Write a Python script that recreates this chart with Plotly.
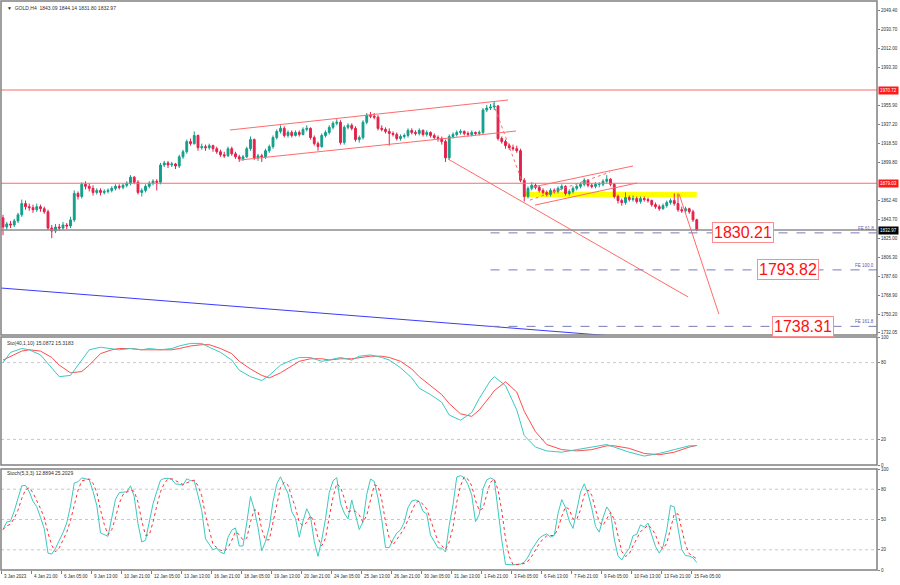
import plotly.graph_objects as go
import pandas as pd

# ---------------- data ----------------
symbol_header = "\u25bc  GOLD,H4  1843.09 1844.14 1831.80 1832.97"
sto_slow_header = "Sto(40,1,10) 15.0872 15.3183"
sto_fast_header = "Stoch(5,3,3) 12.8894 25.2029"

opens = [1845, 1836, 1839, 1838, 1842, 1848, 1859, 1856, 1855, 1853,
         1856, 1854, 1851, 1835, 1832, 1836, 1835, 1838, 1837, 1843,
         1869, 1866, 1878, 1876, 1874, 1870, 1872, 1870, 1871, 1872,
         1874, 1876, 1875, 1877, 1879, 1885, 1880, 1870, 1872, 1876,
         1879, 1881, 1880, 1897, 1899, 1897, 1898, 1896, 1905, 1910,
         1920, 1918, 1926, 1914, 1915, 1914, 1916, 1913, 1910, 1907,
         1906, 1913, 1908, 1905, 1903, 1905, 1913, 1922, 1904, 1906,
         1905, 1911, 1915, 1924, 1930, 1933, 1926, 1929, 1926, 1929,
         1927, 1932, 1933, 1924, 1918, 1915, 1926, 1929, 1934, 1938,
         1939, 1919, 1934, 1936, 1933, 1922, 1924, 1939, 1946, 1945,
         1944, 1933, 1932, 1930, 1928, 1927, 1923, 1925, 1926, 1931,
         1929, 1928, 1931, 1927, 1929, 1926, 1924, 1923, 1920, 1904,
         1925, 1927, 1929, 1930, 1928, 1927, 1929, 1928, 1929, 1951,
         1953, 1954, 1955, 1923, 1920, 1916, 1914, 1913, 1911, 1882,
         1866, 1874, 1877, 1875, 1872, 1870, 1868, 1872, 1871, 1874,
         1876, 1869, 1871, 1874, 1876, 1878, 1882, 1877, 1876, 1878,
         1878, 1881, 1883, 1878, 1866, 1862, 1860, 1865, 1863, 1864,
         1861, 1864, 1863, 1862, 1858, 1856, 1854, 1857, 1860, 1862,
         1859, 1853, 1852, 1854, 1851, 1843.09]
highs = [1848, 1841, 1842, 1844, 1850, 1863, 1862, 1859, 1858, 1859,
         1858, 1856, 1853, 1838, 1839, 1839, 1841, 1840, 1846, 1872,
         1871, 1880, 1881, 1879, 1877, 1874, 1874, 1873, 1874, 1876,
         1878, 1878, 1879, 1881, 1887, 1886, 1882, 1874, 1878, 1881,
         1883, 1883, 1899, 1901, 1901, 1900, 1899, 1907, 1912, 1922,
         1923, 1930, 1927, 1918, 1917, 1918, 1917, 1915, 1912, 1910,
         1915, 1915, 1910, 1907, 1907, 1915, 1925, 1923, 1908, 1908,
         1913, 1917, 1926, 1932, 1936, 1935, 1931, 1931, 1931, 1931,
         1934, 1936, 1934, 1926, 1920, 1928, 1931, 1936, 1940, 1942,
         1941, 1936, 1938, 1938, 1935, 1926, 1941, 1948, 1949, 1948,
         1946, 1936, 1934, 1933, 1930, 1929, 1927, 1928, 1933, 1933,
         1931, 1933, 1932, 1931, 1930, 1928, 1926, 1925, 1922, 1927,
         1929, 1931, 1932, 1931, 1930, 1931, 1930, 1931, 1953, 1956,
         1957, 1959, 1956, 1925, 1922, 1918, 1917, 1916, 1913, 1884,
         1876, 1880, 1879, 1877, 1874, 1872, 1874, 1874, 1876, 1878,
         1877, 1873, 1876, 1878, 1880, 1884, 1883, 1879, 1880, 1880,
         1883, 1887, 1884, 1879, 1868, 1864, 1870, 1867, 1867, 1866,
         1866, 1866, 1865, 1863, 1860, 1858, 1859, 1862, 1864, 1869,
         1869, 1856, 1856, 1855, 1853, 1844.14]
lows = [1828, 1833, 1835, 1836, 1840, 1846, 1853, 1852, 1850, 1851,
        1851, 1849, 1833, 1825, 1830, 1832, 1833, 1834, 1835, 1841,
        1863, 1864, 1873, 1871, 1867, 1868, 1867, 1868, 1869, 1870,
        1872, 1873, 1873, 1875, 1877, 1878, 1868, 1866, 1870, 1874,
        1877, 1872, 1878, 1895, 1894, 1895, 1893, 1894, 1903, 1908,
        1916, 1917, 1911, 1912, 1911, 1912, 1910, 1908, 1905, 1904,
        1905, 1906, 1903, 1900, 1901, 1904, 1911, 1902, 1901, 1900,
        1903, 1909, 1913, 1922, 1928, 1924, 1924, 1924, 1925, 1925,
        1926, 1930, 1922, 1916, 1911, 1914, 1924, 1927, 1932, 1936,
        1917, 1917, 1932, 1931, 1920, 1919, 1922, 1937, 1943, 1942,
        1931, 1930, 1928, 1916, 1925, 1921, 1921, 1923, 1924, 1927,
        1926, 1926, 1925, 1925, 1924, 1922, 1920, 1917, 1900, 1902,
        1923, 1925, 1927, 1926, 1925, 1925, 1926, 1926, 1927, 1949,
        1951, 1951, 1921, 1918, 1913, 1912, 1911, 1909, 1880, 1861,
        1864, 1872, 1873, 1870, 1868, 1866, 1866, 1869, 1869, 1872,
        1867, 1867, 1869, 1872, 1874, 1876, 1875, 1874, 1874, 1875,
        1876, 1879, 1876, 1864, 1859, 1857, 1858, 1861, 1861, 1859,
        1859, 1861, 1860, 1856, 1854, 1852, 1853, 1855, 1858, 1857,
        1851, 1850, 1850, 1849, 1841, 1831.80]
closes = [1836, 1839, 1838, 1842, 1848, 1859, 1856, 1855, 1853, 1856,
          1854, 1851, 1835, 1832, 1836, 1835, 1838, 1837, 1843, 1869,
          1866, 1878, 1876, 1874, 1870, 1872, 1870, 1871, 1872, 1874,
          1876, 1875, 1877, 1879, 1885, 1880, 1870, 1872, 1876, 1879,
          1881, 1880, 1897, 1899, 1897, 1898, 1896, 1905, 1910, 1920,
          1918, 1926, 1914, 1915, 1914, 1916, 1913, 1910, 1907, 1906,
          1913, 1908, 1905, 1903, 1905, 1913, 1922, 1904, 1906, 1905,
          1911, 1915, 1924, 1930, 1933, 1926, 1929, 1926, 1929, 1927,
          1932, 1933, 1924, 1918, 1915, 1926, 1929, 1934, 1938, 1939,
          1919, 1934, 1936, 1933, 1922, 1924, 1939, 1946, 1945, 1944,
          1933, 1932, 1930, 1928, 1927, 1923, 1925, 1926, 1931, 1929,
          1928, 1931, 1927, 1929, 1926, 1924, 1923, 1920, 1904, 1925,
          1927, 1929, 1930, 1928, 1927, 1929, 1928, 1929, 1951, 1953,
          1954, 1955, 1923, 1920, 1916, 1914, 1913, 1911, 1882, 1866,
          1874, 1877, 1875, 1872, 1870, 1868, 1872, 1871, 1874, 1876,
          1869, 1871, 1874, 1876, 1878, 1882, 1877, 1876, 1878, 1878,
          1881, 1883, 1878, 1866, 1862, 1860, 1865, 1863, 1864, 1861,
          1864, 1863, 1862, 1858, 1856, 1854, 1857, 1860, 1862, 1859,
          1853, 1852, 1854, 1851, 1843.09, 1832.97]

date_labels = ["3 Jan 2023", "4 Jan 21:00", "6 Jan 05:00", "9 Jan 13:00", "10 Jan 21:00",
               "12 Jan 05:00", "13 Jan 13:00", "16 Jan 21:00", "18 Jan 05:00", "19 Jan 13:00",
               "20 Jan 21:00", "24 Jan 05:00", "25 Jan 13:00", "26 Jan 21:00", "30 Jan 05:00",
               "31 Jan 13:00", "1 Feb 21:00", "3 Feb 05:00", "6 Feb 13:00", "7 Feb 21:00",
               "9 Feb 05:00", "10 Feb 13:00", "13 Feb 21:00", "15 Feb 05:00"]
label_bars = [0, 8, 16, 24, 32, 40, 48, 56, 64, 72, 80, 88, 96, 104, 112, 120,
              128, 136, 144, 152, 160, 168, 176, 184]

# price-scale labels (1974.60 and 1881.10 sit under the coloured level tags)
price_ticks = [2049.40, 2030.70, 2012.00, 1993.30, 1955.90, 1937.20, 1918.50,
               1899.80, 1862.40, 1843.70, 1825.00, 1806.30, 1787.60, 1768.90,
               1750.20, 1732.05]

resistance_levels = [1970.72, 1879.03]
bid_price = 1832.97
fe_levels = [1830.21, 1793.82, 1738.31]
fe_names = ["FE 61.8", "FE 100.0", "FE 161.8"]
fe_start_bar = 130

# trend lines: (bar0, price0, bar1, price1)
channel_lines = [(60.5, 1931.4, 134.7, 1960.9),
                 (63.2, 1901.9, 136.8, 1930.4),
                 (118.7, 1902.8, 182.7, 1767.2),
                 (180.3, 1868.4, 190.9, 1750.4),
                 (141.3, 1875.3, 168.0, 1896.0),
                 (141.9, 1857.6, 169.1, 1879.3)]
zigzag_lines = [(130.7, 1957.9, 138.3, 1882.0),
                (140.5, 1862.4, 161.9, 1890.0)]
blue_line = (-0.53, 1776.0, 170.0, 1726.7)
yellow_zone = (139.2, 185.0, 1865.3, 1870.6)

# Stochastic(40,1,10)
sto40_bars = [0, 2, 5, 7, 10, 13, 15, 18, 21, 23, 26, 29, 31, 34, 37, 39, 42, 45, 47, 50,
              53, 55, 58, 61, 63, 66, 69, 71, 74, 77, 79, 82, 85, 87, 90, 93, 95, 98, 101, 103,
              106, 109, 111, 114, 117, 119, 122, 125, 127, 130, 131, 134, 137, 139, 142, 145,
              149, 153, 157, 161, 163, 167, 171, 175, 179, 183, 185]
sto40_main = [80, 88, 91, 90, 86, 76, 69, 70, 82, 90, 92, 91, 90, 91, 90, 91, 90, 91, 93, 95,
              95, 92, 88, 82, 74, 69, 66, 70, 78, 82, 84, 84, 81, 82, 84, 82, 85, 86, 84, 82,
              76, 68, 60, 55, 49, 39, 35, 41, 52, 66, 69, 62, 43, 23, 14, 11,
              10, 12, 14, 16, 14, 10, 7, 9, 12, 15, 15.09]
sto40_signal = [82, 85, 89, 90, 89, 84, 78, 72, 73, 78, 87, 90, 91, 91, 90, 90, 90, 90, 91, 93,
                94, 94, 91, 87, 81, 75, 70, 68, 72, 77, 81, 83, 83, 82, 83, 83, 84, 85, 85, 84,
                81, 75, 69, 62, 55, 48, 40, 38, 43, 54, 58, 65, 57, 42, 26, 16,
                12, 11, 12, 15, 15, 13, 9, 8, 10, 14, 15.32]

# ---------------- indicator (fast stochastic from the candles) ----------------
df = pd.DataFrame({"o": opens, "h": highs, "l": lows, "c": closes})
ll = df["l"].rolling(5, min_periods=1).min()
hh = df["h"].rolling(5, min_periods=1).max()
num = (df["c"] - ll).rolling(3, min_periods=1).sum()
den = (hh - ll).rolling(3, min_periods=1).sum()
stoch_k = 100 * num / den
stoch_d = stoch_k.rolling(3, min_periods=1).mean()
bars = list(range(len(closes)))

# ---------------- layout geometry ----------------
W, H = 900, 585
ML, MR, MT, MB = 1, 23, 1, 15
plot_h = H - MT - MB
plot_w = W - ML - MR
X0, X1 = -0.533, -0.533 + plot_w / 3.75


def py(px):  # pixel row -> paper y
    return (H - MB - px) / plot_h


dom_main = [py(335), 1.0]
dom_s1 = [py(465), py(337)]
dom_s2 = [0.0, py(469)]

BULL = "#139e8b"
BEAR = "#e3214a"
TRED = "#ff6b6b"
AXC = "#808080"
TXT = "#303030"
FONT = "Liberation Sans, Arial, sans-serif"

fig = go.Figure()

# yellow zone
fig.add_shape(type="rect", xref="x", yref="y", x0=yellow_zone[0], x1=yellow_zone[1],
              y0=yellow_zone[2], y1=yellow_zone[3], fillcolor="#ffff00",
              line=dict(width=0), layer="below")

# horizontal levels
for lv in resistance_levels:
    fig.add_shape(type="line", xref="x domain", yref="y", x0=0, x1=1, y0=lv, y1=lv,
                  line=dict(color=TRED, width=1))
fig.add_shape(type="line", xref="x domain", yref="y", x0=0, x1=1, y0=bid_price, y1=bid_price,
              line=dict(color="#8c8c8c", width=1.5))
for lv in fe_levels:
    fig.add_shape(type="line", xref="x", yref="y", x0=fe_start_bar, x1=X1, y0=lv, y1=lv,
                  line=dict(color="#7a7ab8", width=1, dash="dash"))

# blue long-term line
fig.add_trace(go.Scatter(x=[blue_line[0], blue_line[2]], y=[blue_line[1], blue_line[3]],
                         mode="lines", line=dict(color="#3a3aff", width=1),
                         xaxis="x", yaxis="y", hoverinfo="skip"))
# trend lines
for (a, b, c, d) in channel_lines:
    fig.add_trace(go.Scatter(x=[a, c], y=[b, d], mode="lines",
                             line=dict(color=TRED, width=1), xaxis="x", yaxis="y",
                             hoverinfo="skip"))
for (a, b, c, d) in zigzag_lines:
    fig.add_trace(go.Scatter(x=[a, c], y=[b, d], mode="lines",
                             line=dict(color=TRED, width=1, dash="dot"), xaxis="x", yaxis="y",
                             hoverinfo="skip"))

# candles
fig.add_trace(go.Candlestick(
    x=bars, open=opens, high=highs, low=lows, close=closes,
    increasing=dict(line=dict(color=BULL, width=1), fillcolor=BULL),
    decreasing=dict(line=dict(color=BEAR, width=1), fillcolor=BEAR),
    whiskerwidth=0, xaxis="x", yaxis="y", hoverinfo="skip"))

# stochastic panels
fig.add_trace(go.Scatter(x=sto40_bars, y=sto40_signal, mode="lines",
                         line=dict(color="#ff4d4d", width=1), xaxis="x", yaxis="y2"))
fig.add_trace(go.Scatter(x=sto40_bars, y=sto40_main, mode="lines",
                         line=dict(color="#3cc9c0", width=1), xaxis="x", yaxis="y2"))
fig.add_trace(go.Scatter(x=bars, y=stoch_k, mode="lines",
                         line=dict(color="#3cc9c0", width=1), xaxis="x", yaxis="y3"))
fig.add_trace(go.Scatter(x=bars, y=stoch_d, mode="lines",
                         line=dict(color="#ff3030", width=1, dash="dot"), xaxis="x", yaxis="y3"))

for lv in [80, 20]:
    fig.add_shape(type="line", xref="x domain", yref="y2", x0=0, x1=1, y0=lv, y1=lv,
                  line=dict(color="#c8c8c8", width=1, dash="dot"), layer="below")
for lv in [80, 50, 20]:
    fig.add_shape(type="line", xref="x domain", yref="y3", x0=0, x1=1, y0=lv, y1=lv,
                  line=dict(color="#c8c8c8", width=1, dash="dot"), layer="below")

# panel frames
for d in (dom_main, dom_s1, dom_s2):
    fig.add_shape(type="rect", xref="paper", yref="paper", x0=0, x1=1, y0=d[0], y1=d[1],
                  line=dict(color=AXC, width=1.5), fillcolor="rgba(0,0,0,0)")

# right-axis coloured price tags
for lv in resistance_levels:
    fig.add_annotation(xref="paper", yref="y", x=1.0, y=lv, xanchor="left", yanchor="middle",
                       text=f"{lv:.2f}", showarrow=False, bgcolor="#ff1a1a",
                       font=dict(color="white", size=4.5, family=FONT), borderpad=1, xshift=1)
fig.add_annotation(xref="paper", yref="y", x=1.0, y=bid_price, xanchor="left", yanchor="middle",
                   text=f"{bid_price:.2f}", showarrow=False, bgcolor="#000000",
                   font=dict(color="white", size=4.5, family=FONT), borderpad=1, xshift=1)

# FE labels and big value boxes
big_pos = [197.3, 209.4, 213.4]
for lv, name, bx in zip(fe_levels, fe_names, big_pos):
    fig.add_annotation(xref="x", yref="y", x=X1 - 0.3, y=lv, xanchor="right", yanchor="bottom",
                       text=name, showarrow=False,
                       font=dict(color="#5a5aa8", size=4.5, family=FONT))
    fig.add_annotation(xref="x", yref="y", x=bx, y=lv, xanchor="center", yanchor="middle",
                       text=f"{lv:.2f}", showarrow=False, bgcolor="white",
                       bordercolor="#ff8c8c", borderwidth=1, borderpad=1,
                       font=dict(color="#ff1010", size=16,
                                 family="Liberation Sans Narrow, Arial Narrow, Liberation Sans, Arial"))

# headers
fig.add_annotation(xref="paper", yref="paper", x=0.004, y=py(3), xanchor="left", yanchor="top",
                   text=symbol_header, showarrow=False, font=dict(color=TXT, size=5, family=FONT))
fig.add_annotation(xref="paper", yref="paper", x=0.004, y=py(338), xanchor="left", yanchor="top",
                   text=sto_slow_header, showarrow=False, font=dict(color=TXT, size=5, family=FONT))
fig.add_annotation(xref="paper", yref="paper", x=0.004, y=py(468), xanchor="left", yanchor="top",
                   text=sto_fast_header, showarrow=False, font=dict(color=TXT, size=5, family=FONT))

# date labels (left aligned at tick)
for b, t in zip(label_bars, date_labels):
    fig.add_annotation(xref="x", yref="paper", x=b - 0.533, y=0, xanchor="left", yanchor="top",
                       text=t, showarrow=False, yshift=-2, xshift=1,
                       font=dict(color=TXT, size=4.5, family=FONT))

axis_common = dict(side="right", showgrid=False, zeroline=False, ticks="outside", ticklen=2,
                   tickcolor=AXC, tickfont=dict(size=4.5, color=TXT, family=FONT),
                   showline=False, fixedrange=True)

fig.update_layout(
    width=W, height=H, margin=dict(l=ML, r=MR, t=MT, b=MB, autoexpand=False),
    paper_bgcolor="white", plot_bgcolor="white", showlegend=False,
    xaxis=dict(range=[X0, X1], anchor="y3", showgrid=False, zeroline=False,
               tickvals=[b - 0.533 for b in label_bars], showticklabels=False,
               ticks="outside", ticklen=3, tickcolor=AXC, showline=False,
               rangeslider=dict(visible=False), fixedrange=True),
    yaxis=dict(domain=dom_main, range=[1729.8, 2058.25], tickvals=price_ticks,
               ticktext=[f"{v:.2f}" for v in price_ticks], anchor="x", **axis_common),
    yaxis2=dict(domain=dom_s1, range=[0, 100], tickvals=[100, 80, 20, 0],
                ticktext=["100", "80", "20", "0"], anchor="x", **axis_common),
    yaxis3=dict(domain=dom_s2, range=[0, 100], tickvals=[100, 80, 50, 20, 0],
                ticktext=["100", "80", "50", "20", "0"], anchor="x", **axis_common),
)

fig.write_html("out.html", config={"displayModeBar": False},
               post_script="document.body.style.margin='0px';document.body.style.overflow='hidden';")
